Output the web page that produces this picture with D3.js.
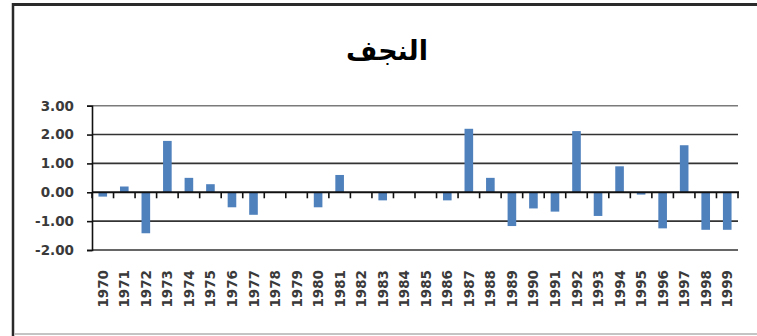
<!DOCTYPE html>
<html>
<head>
<meta charset="utf-8">
<script src="https://cdn.jsdelivr.net/npm/d3@7"></script>
<style>
  html, body { margin: 0; padding: 0; background: #fff; }
  svg { display: block; }
</style>
</head>
<body>
<svg id="chart" width="757" height="336"></svg>
<script>
// Annual anomaly values for Najaf, 1970–1999
const years = ["1970","1971","1972","1973","1974","1975","1976","1977","1978","1979",
               "1980","1981","1982","1983","1984","1985","1986","1987","1988","1989",
               "1990","1991","1992","1993","1994","1995","1996","1997","1998","1999"];
const values = [-0.15, 0.2, -1.42, 1.78, 0.5, 0.28, -0.52, -0.78, 0, 0,
                -0.52, 0.6, 0, -0.28, 0, 0, -0.28, 2.2, 0.5, -1.17,
                -0.56, -0.67, 2.12, -0.82, 0.9, -0.08, -1.25, 1.63, -1.3, -1.3];
const yTicks = [-2, -1, 0, 1, 2, 3];
const title = "النجف";

const svg = d3.select("#chart");
const W = 757, H = 336;
const plot = { left: 92, right: 738, top: 105.7, bottom: 250 };

// Frame of the chart area
svg.append("line").attr("x1", 13).attr("x2", 13).attr("y1", 3).attr("y2", 336)
  .attr("stroke", "#2a2a2a").attr("stroke-width", 2.5);
svg.append("line").attr("x1", 12).attr("x2", W).attr("y1", 4.5).attr("y2", 4.5)
  .attr("stroke", "#2a2a2a").attr("stroke-width", 3);
svg.append("line").attr("x1", 14).attr("x2", W).attr("y1", 334).attr("y2", 334)
  .attr("stroke", "#c4c4c4").attr("stroke-width", 2);

// Title
svg.append("text")
  .attr("x", 387).attr("y", 60)
  .attr("text-anchor", "middle")
  .attr("font-family", "'DejaVu Sans', sans-serif")
  .attr("font-weight", "bold")
  .attr("font-size", 27)
  .attr("fill", "#000")
  .text(title);

const x = d3.scaleBand()
  .domain(years)
  .range([plot.left, plot.right])
  .paddingInner(0.6)
  .paddingOuter(0.3);

const y = d3.scaleLinear()
  .domain([-2, 3])
  .range([plot.bottom, plot.top]);

// Horizontal gridlines
svg.append("g").selectAll("line")
  .data(yTicks.filter(d => d !== 0))
  .join("line")
  .attr("x1", plot.left).attr("x2", plot.right)
  .attr("y1", d => y(d)).attr("y2", d => y(d))
  .attr("stroke", d => d === 3 ? "#7a7a7a" : "#333")
  .attr("stroke-width", 1.6);

// Y axis with labels (plain hyphen for negatives)
const fmt = d => d.toFixed(2);
const yAxis = d3.axisLeft(y)
  .tickValues(yTicks)
  .tickSize(5)
  .tickFormat(fmt);
const gy = svg.append("g")
  .attr("transform", `translate(${plot.left},0)`)
  .call(yAxis);
gy.select(".domain").attr("stroke", "#111").attr("stroke-width", 1.6);
gy.selectAll(".tick line").attr("stroke", "#111").attr("stroke-width", 1.6);
gy.selectAll(".tick text")
  .attr("x", -18)
  .attr("font-family", "'DejaVu Sans', sans-serif")
  .attr("font-weight", "bold")
  .attr("font-size", 13.5)
  .attr("fill", "#3a3a3a");

// Bars
svg.append("g").selectAll("rect")
  .data(years.map((yr, i) => ({ yr, v: values[i] })))
  .join("rect")
  .attr("x", d => x(d.yr))
  .attr("width", x.bandwidth())
  .attr("y", d => y(Math.max(0, d.v)))
  .attr("height", d => Math.abs(y(d.v) - y(0)))
  .attr("fill", "#4f81bd");

// Category axis drawn along the zero line, ticks between categories
const step = x.step();
const boundaries = d3.range(years.length + 1).map(i => plot.left + i * step);
svg.append("line")
  .attr("x1", plot.left).attr("x2", plot.right + 1)
  .attr("y1", y(0)).attr("y2", y(0))
  .attr("stroke", "#111").attr("stroke-width", 2);
svg.append("g").selectAll("line")
  .data(boundaries)
  .join("line")
  .attr("x1", d => d).attr("x2", d => d)
  .attr("y1", y(0)).attr("y2", y(0) + 6)
  .attr("stroke", "#111").attr("stroke-width", 1.6);

// Rotated year labels
svg.append("g").selectAll("text")
  .data(years)
  .join("text")
  .attr("transform", d => `translate(${x(d) + x.bandwidth() / 2 + 5},270) rotate(-90)`)
  .attr("text-anchor", "end")
  .attr("font-family", "'DejaVu Sans', sans-serif")
  .attr("font-weight", "bold")
  .attr("font-size", 13.5)
  .attr("fill", "#3a3a3a")
  .text(d => d);
</script>
</body>
</html>
